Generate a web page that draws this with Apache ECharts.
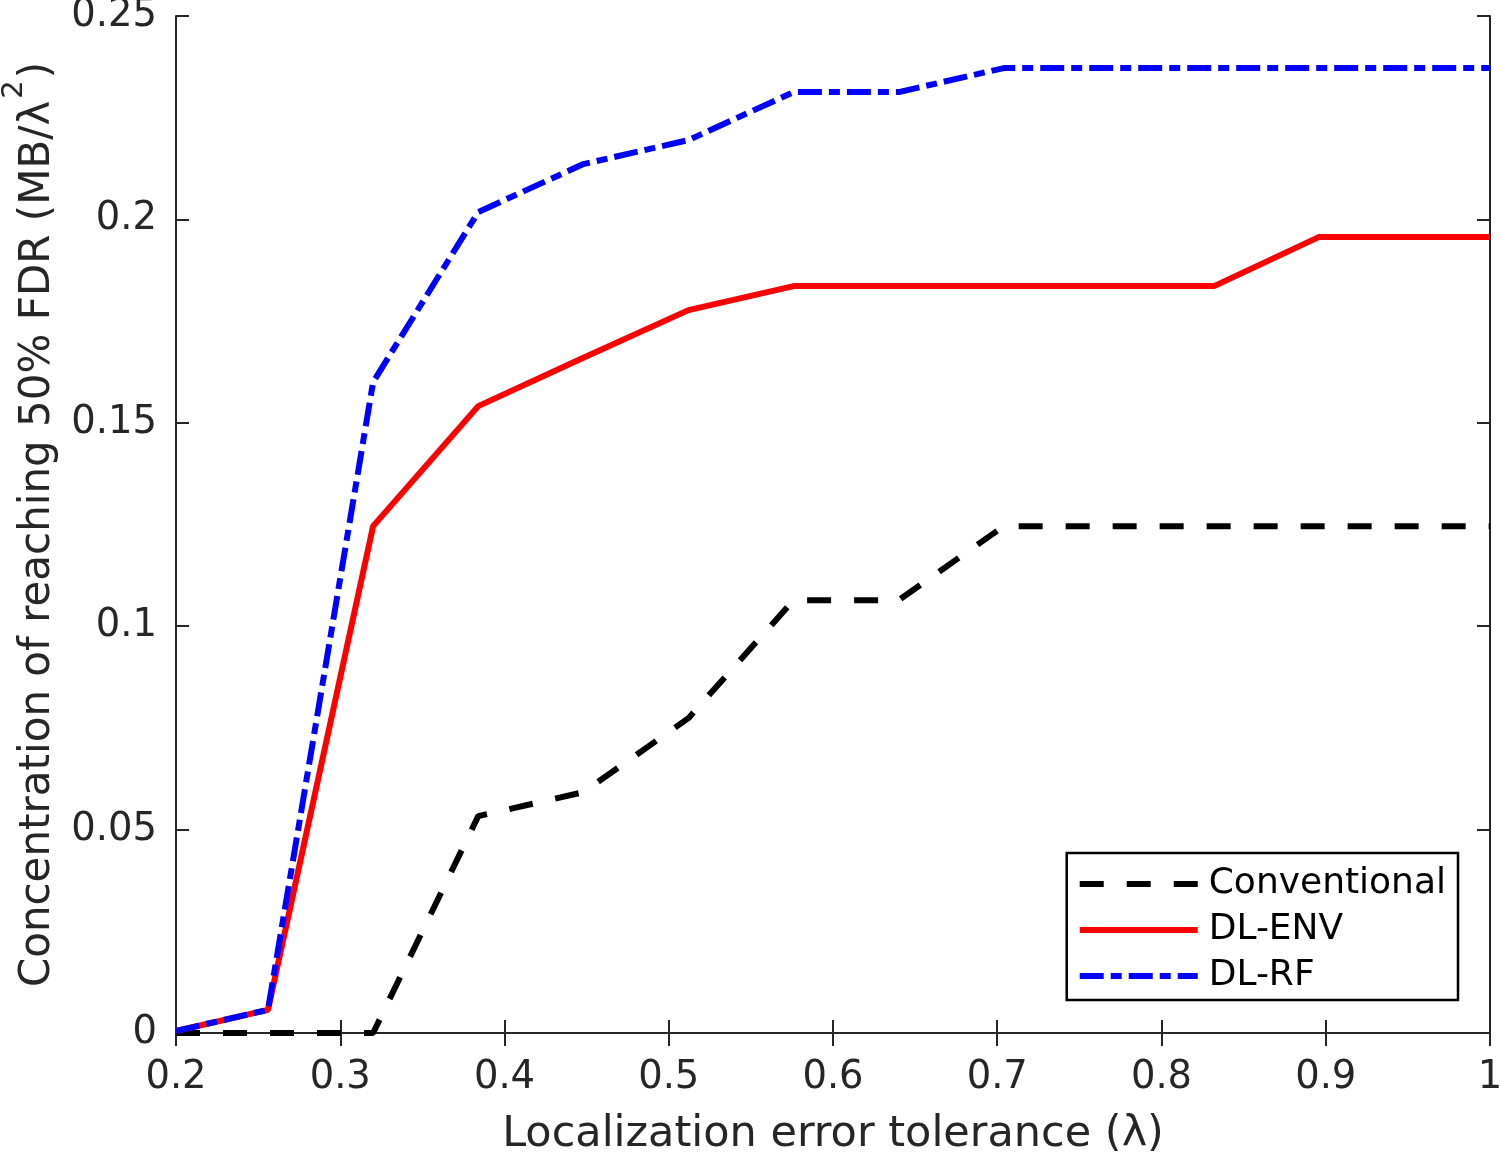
<!DOCTYPE html>
<html>
<head>
<meta charset="utf-8">
<script src="https://cdn.jsdelivr.net/npm/echarts@6/dist/echarts.min.js"></script>
<style>
html,body{margin:0;padding:0;background:#fff;}
#chart{width:1500px;height:1153px;}
</style>
</head>
<body>
<div id="chart"></div>
<script>
const xValues = [0.2, 0.256, 0.32, 0.384, 0.448, 0.512, 0.576, 0.64, 0.704, 0.768, 0.832, 0.896, 0.96, 1.0];
const conventional = [0, 0, 0, 0.0533, 0.0592, 0.0774, 0.1064, 0.1064, 0.1246, 0.1246, 0.1246, 0.1246, 0.1246, 0.1246];
const dlEnv = [0.0005, 0.0057, 0.1246, 0.1541, 0.1660, 0.1777, 0.1836, 0.1836, 0.1836, 0.1836, 0.1836, 0.1957, 0.1957, 0.1957];
const dlRf = [0.0005, 0.0057, 0.1600, 0.2018, 0.2136, 0.2195, 0.2313, 0.2313, 0.2372, 0.2372, 0.2372, 0.2372, 0.2372, 0.2372];
const seriesNames = ['Conventional', 'DL-ENV', 'DL-RF'];
const xTitle = 'Localization error tolerance (λ)';
const yTitleMain = 'Concentration of reaching 50% FDR (MB/λ';
const yTitleSup = '2';
const yTitleEnd = ')';

const pairs = arr => xValues.map((x, i) => [x, arr[i]]);
const FONT = 'DejaVu Sans';
const axisColor = '#262626';
const fmt = v => String(parseFloat(v.toFixed(4)));

const chart = echarts.init(document.getElementById('chart'), null, {renderer: 'canvas'});
const commonX = {
  type: 'value', min: 0.2, max: 1, interval: 0.1,
  axisLine: {show: true, lineStyle: {color: axisColor, width: 2}},
  axisTick: {show: true, inside: true, length: 13, lineStyle: {color: axisColor, width: 2}},
  splitLine: {show: false}
};
const commonY = {
  type: 'value', min: 0, max: 0.25, interval: 0.05,
  axisLine: {show: true, lineStyle: {color: axisColor, width: 2}},
  axisTick: {show: true, inside: true, length: 13, lineStyle: {color: axisColor, width: 2}},
  splitLine: {show: false}
};
chart.setOption({
  animation: false,
  backgroundColor: '#fff',
  grid: {left: 176, right: 10, top: 16, bottom: 120, containLabel: false, outerBoundsMode: 'none'},
  xAxis: [
    Object.assign({}, commonX, {
      position: 'bottom',
      axisLabel: {show: true, formatter: fmt, fontFamily: FONT, fontSize: 38.5, color: axisColor, margin: 25},
      name: xTitle, nameLocation: 'middle', nameGap: 80,
      nameTextStyle: {fontFamily: FONT, fontSize: 43, color: axisColor}
    }),
    Object.assign({}, commonX, {position: 'top', axisLabel: {show: false}})
  ],
  yAxis: [
    Object.assign({}, commonY, {
      position: 'left',
      axisLabel: {show: true, formatter: fmt, fontFamily: FONT, fontSize: 38.5, color: axisColor, margin: 19},
      name: '{m|' + yTitleMain + '}{s|' + yTitleSup + '}{m|' + yTitleEnd + '}',
      nameLocation: 'middle', nameGap: 100, nameRotate: 90,
      nameTextStyle: {
        fontFamily: FONT, fontSize: 42, color: axisColor,
        rich: {
          m: {fontFamily: FONT, fontSize: 42, color: axisColor, lineHeight: 76},
          s: {fontFamily: FONT, fontSize: 29, color: axisColor, lineHeight: 28, verticalAlign: 'top', padding: [0, 2, 0, 2]}
        }
      }
    }),
    Object.assign({}, commonY, {position: 'right', axisLabel: {show: false}})
  ],
  legend: {
    show: true,
    data: seriesNames,
    orient: 'vertical',
    right: 42, bottom: 153,
    backgroundColor: '#fff',
    borderColor: '#000', borderWidth: 2.5,
    padding: [13, 12, 6, 10],
    itemWidth: 118, itemHeight: 36, itemGap: 10,
    itemStyle: {opacity: 0},
    lineStyle: {width: 6},
    textStyle: {fontFamily: FONT, fontSize: 36, color: '#000', padding: [0, 0, 0, 6]}
  },
  series: [
    {name: seriesNames[0], type: 'line', data: pairs(conventional), symbol: 'none', color: '#000000',
     lineStyle: {color: '#000000', width: 6, type: [24, 23], cap: 'butt'}, z: 2},
    {name: seriesNames[1], type: 'line', data: pairs(dlEnv), symbol: 'none', color: '#ff0000',
     lineStyle: {color: '#ff0000', width: 6, type: 'solid'}, z: 3},
    {name: seriesNames[2], type: 'line', data: pairs(dlRf), symbol: 'none', color: '#0000ff',
     lineStyle: {color: '#0000ff', width: 6, type: [24, 7, 11, 7], cap: 'butt'}, z: 4}
  ]
});
</script>
</body>
</html>
